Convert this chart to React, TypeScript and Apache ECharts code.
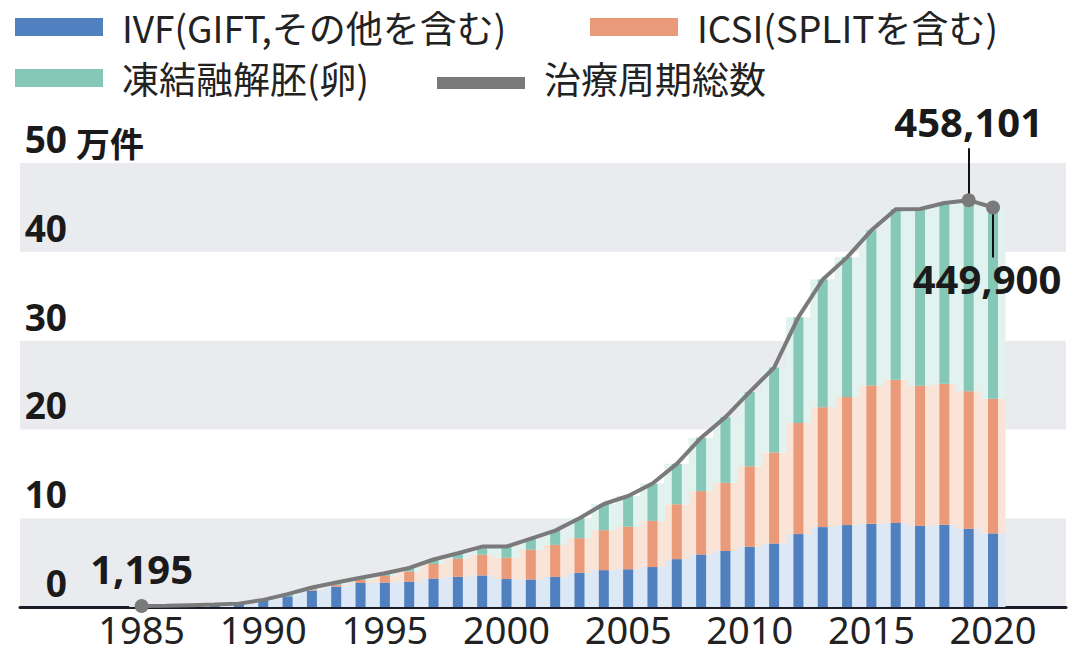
import React, { useEffect, useRef } from "react";
import * as echarts from "echarts";

// ---- data (件) ----
const years = [
  1985, 1986, 1987, 1988, 1989, 1990, 1991, 1992, 1993, 1994, 1995, 1996,
  1997, 1998, 1999, 2000, 2001, 2002, 2003, 2004, 2005, 2006, 2007, 2008,
  2009, 2010, 2011, 2012, 2013, 2014, 2015, 2016, 2017, 2018, 2019, 2020,
];
const ivf = [
  1195, 1400, 1950, 2500, 3500, 7600, 12000, 18500, 23000, 27000, 27500, 28500,
  32000, 34000, 35500, 31500, 31000, 34000, 38500, 41500, 42500, 45000, 53900, 59148,
  63083, 67714, 71422, 82108, 89950, 92269, 93614, 94566, 91516, 92552, 88074, 82883,
];
const icsi = [
  0, 0, 0, 0, 0, 0, 0, 1000, 2000, 3500, 7500, 11500,
  16500, 20500, 23500, 24000, 33500, 36000, 39000, 45000, 48000, 52000, 61800, 71350,
  76790, 90677, 102473, 125229, 134871, 144247, 155797, 161262, 157709, 158859, 154824, 151732,
];
const frozen = [
  0, 0, 100, 200, 300, 400, 2500, 2500, 2500, 2500, 3000, 4000,
  5000, 6000, 9000, 12500, 12500, 16000, 22500, 29500, 34500, 42000, 45500, 60115,
  73927, 83770, 95764, 119089, 143943, 157229, 174740, 191962, 198985, 203482, 215203, 215285,
];
const total = [
  1195, 1400, 2050, 2700, 3800, 8000, 14500, 22000, 27500, 33000, 38000, 44000,
  53500, 60500, 68000, 68000, 77000, 86000, 100000, 116000, 125000, 139000, 161200, 190613,
  213800, 242161, 269659, 326426, 368764, 393745, 424151, 447790, 448210, 454893, 458101, 449900,
];
// x-axis categories (axis runs a little beyond the data on both sides)
const axisYears = [
  "1980", "1981", "1982", "1983", "1984", "1985", "1986", "1987", "1988", "1989",
  "1990", "1991", "1992", "1993", "1994", "1995", "1996", "1997", "1998", "1999",
  "2000", "2001", "2002", "2003", "2004", "2005", "2006", "2007", "2008", "2009",
  "2010", "2011", "2012", "2013", "2014", "2015", "2016", "2017", "2018", "2019",
  "2020", "2021", "2022", "2023",
];
const xTickYears = ["1985", "1990", "1995", "2000", "2005", "2010", "2015", "2020"];
const annotatedYears = [1985, 2019, 2020];

const NAME_IVF = "IVF(GIFT,その他を含む)";
const NAME_ICSI = "ICSI(SPLITを含む)";
const NAME_FROZEN = "凍結融解胚(卵)";
const NAME_TOTAL = "治療周期総数";

const C_IVF = "#5080bf";
const C_ICSI = "#eb9a79";
const C_FROZEN = "#86c8b8";
const P_IVF = "#dce8f6";
const P_ICSI = "#fae3d7";
const P_FROZEN = "#e2f2ee";
const C_LINE = "#7a7a7a";

const FONT_JP = '"Noto Sans CJK JP", "Noto Sans", sans-serif';
const FONT_NUM = '"Noto Sans", "Noto Sans CJK JP", sans-serif';

export default function App() {
  const ref = useRef<HTMLDivElement>(null);

  useEffect(() => {
    document.body.style.margin = "0";
    if (!ref.current) return;
    const chart = echarts.init(ref.current, undefined, { renderer: "svg" });

    const pair = (arr: number[]) => years.map((y, i) => [String(y), arr[i]]);

    const legendBase = (name: string, left: number, top: number, extra: any = {}) => ({
      data: [name],
      left,
      top,
      itemWidth: 88,
      itemHeight: 18,
      icon: "rect",
      selectedMode: false,
      padding: 0,
      textStyle: {
        fontSize: 37,
        lineHeight: 40,
        color: "#222",
        fontFamily: FONT_JP,
        padding: [0, 0, 0, 14],
      },
      ...extra,
    });

    const lineData = years.map((y, i) => {
      const idx = annotatedYears.indexOf(y);
      if (idx < 0) return { value: [String(y), total[i]], symbolSize: 0 };
      const txt = total[i].toLocaleString("en-US");
      let label: any = { show: true, formatter: txt, position: "top", distance: 10 };
      if (y === 2019) label = { show: true, formatter: txt, position: "top", distance: 52 };
      if (y === 2020)
        label = { show: true, formatter: txt, position: "bottom", distance: 44, offset: [-6, 0] };
      return { value: [String(y), total[i]], symbolSize: 14, label };
    });

    const barCommon = (name: string, data: number[], color: string, xi: number, stack: string, width: number, z: number) => ({
      name,
      type: "bar",
      xAxisIndex: xi,
      stack,
      barWidth: width,
      data: pair(data),
      itemStyle: { color },
      z,
      silent: true,
    });

    chart.setOption({
      animation: false,
      backgroundColor: "#ffffff",
      legend: [
        legendBase(NAME_IVF, 15, 7),
        legendBase(NAME_ICSI, 590, 7),
        legendBase(NAME_FROZEN, 15, 58),
        legendBase(NAME_TOTAL, 437, 58, {
          icon: "path://M0,0L0.05,0L0.05,0.05Z M0,10L88,10L88,22L0,22Z",
          itemHeight: 22,
        }),
      ],
      grid: { left: 20, right: 3, top: 163, bottom: 47, containLabel: false },
      xAxis: [
        {
          type: "category",
          data: axisYears,
          boundaryGap: false,
          axisLine: { show: true, lineStyle: { color: "#1b1b28", width: 3 } },
          axisTick: { show: false },
          splitLine: { show: false },
          axisLabel: {
            margin: 3,
            fontSize: 38,
            lineHeight: 38,
            color: "#222",
            fontFamily: FONT_NUM,
            interval: (_i: number, v: string) => xTickYears.indexOf(v) >= 0,
          },
        },
        { type: "category", data: axisYears, boundaryGap: false, show: false },
      ],
      yAxis: {
        type: "value",
        min: 0,
        max: 500000,
        interval: 100000,
        name: "万件",
        nameLocation: "end",
        nameGap: 0,
        nameTextStyle: {
          align: "left",
          verticalAlign: "bottom",
          fontSize: 34,
          fontWeight: "bold",
          color: "#1a1a1a",
          fontFamily: FONT_JP,
          padding: [0, 0, 4, 56],
        },
        axisLine: { show: false },
        axisTick: { show: false },
        splitLine: { show: false },
        splitArea: { show: true, areaStyle: { color: ["#e9ebee", "#ffffff"] } },
        axisLabel: {
          inside: true,
          align: "right",
          verticalAlign: "bottom",
          margin: 47,
          padding: [0, 0, 6, 0],
          fontSize: 37,
          fontWeight: "bold",
          color: "#1a1a1a",
          fontFamily: FONT_NUM,
          formatter: (v: number) => String(v / 10000),
        },
      },
      series: [
        barCommon("ivfPale", ivf, P_IVF, 1, "pale", 25, 1),
        barCommon("icsiPale", icsi, P_ICSI, 1, "pale", 25, 1),
        barCommon("frozenPale", frozen, P_FROZEN, 1, "pale", 25, 1),
        barCommon(NAME_IVF, ivf, C_IVF, 0, "main", 10, 2),
        barCommon(NAME_ICSI, icsi, C_ICSI, 0, "main", 10, 2),
        barCommon(NAME_FROZEN, frozen, C_FROZEN, 0, "main", 10, 2),
        {
          id: "total",
          name: NAME_TOTAL,
          type: "line",
          xAxisIndex: 0,
          data: lineData,
          symbol: "circle",
          showSymbol: true,
          clip: false,
          z: 5,
          silent: true,
          itemStyle: { color: C_LINE },
          lineStyle: { color: C_LINE, width: 4 },
          label: {
            fontSize: 40,
            fontWeight: "bold",
            color: "#1a1a1a",
            fontFamily: FONT_NUM,
          },
        },
      ],
    });

    // leader lines for the two end annotations, positioned via the chart's own scales
    const i19 = years.indexOf(2019);
    const i20 = years.indexOf(2020);
    const p19 = chart.convertToPixel({ xAxisIndex: 0, yAxisIndex: 0 }, [String(years[i19]), total[i19]]) as number[];
    const p20 = chart.convertToPixel({ xAxisIndex: 0, yAxisIndex: 0 }, [String(years[i20]), total[i20]]) as number[];
    chart.setOption({
      series: [
        {
          id: "total",
          markLine: {
            silent: true,
            symbol: "none",
            animation: false,
            label: { show: false },
            lineStyle: { color: "#111", width: 2, type: "solid" },
            data: [
              [{ x: p19[0], y: p19[1] }, { x: p19[0], y: p19[1] - 52 }],
              [{ x: p20[0], y: p20[1] }, { x: p20[0], y: p20[1] + 50 }],
            ],
          },
        },
      ],
    });

    return () => chart.dispose();
  }, []);

  return <div ref={ref} style={{ width: 1069, height: 654 }} />;
}
